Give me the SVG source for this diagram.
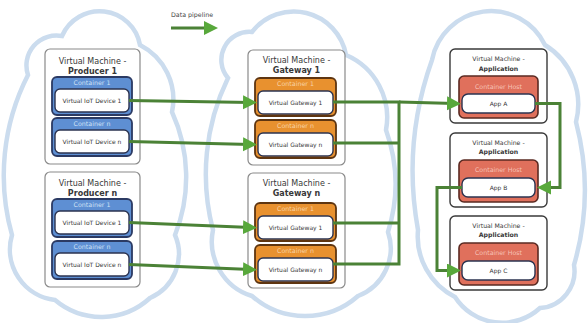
<svg xmlns="http://www.w3.org/2000/svg" width="588" height="323" viewBox="0 0 588 323">
<defs>
<marker id="ah" markerUnits="userSpaceOnUse" markerWidth="16" markerHeight="16" refX="8" refY="7" orient="auto">
<path d="M0,0 L14,7 L0,14 z" fill="#58a83b"/>
</marker>
<style>
.cloud{fill:none;stroke:#cbdcee;stroke-width:4.5}
.vm{fill:#fff;stroke:#8a8a8a;stroke-width:1.2}
.vma{fill:#fff;stroke:#3a3a3a;stroke-width:1.4}
.cb{fill:#5e8fd3;stroke:#2b3a63;stroke-width:1.8}
.co{fill:#e8912f;stroke:#5e3510;stroke-width:1.8}
.cr{fill:#e0705c;stroke:#5a2a22;stroke-width:1.6}
.in{fill:#fff;stroke:#2b3350;stroke-width:1.4}
text{font-family:"DejaVu Sans","Liberation Sans",sans-serif;text-anchor:middle;fill:#383838}
.t{font-size:8px}
.ta{font-size:6.2px}
.b{font-weight:bold}
.it{font-size:6px}
.hb{font-size:6.3px;fill:#cfe0f5}
.ho{font-size:6.3px;fill:#f8d3a6}
.hr{font-size:6.3px;fill:#f6c2b6}
.lg{font-size:6.3px;fill:#444}
.ln{fill:none;stroke:#4b8236;stroke-width:3}
</style>
</defs>
<rect width="588" height="323" fill="#fff"/>
<g id="clouds">
<path class="cloud" d="M28 75 A30 30 0 0 1 62 36 A41 41 0 0 1 140 45 A61 61 0 0 1 172 112 A156 156 0 0 1 175 235 A48 48 0 0 1 150 298 A72 72 0 0 1 55 300 A51 51 0 0 1 12 235 A220 220 0 0 1 28 75 Z"/>
<path class="cloud" d="M228 78 A28 28 0 0 1 252 32 A53 53 0 0 1 346 55 A68 68 0 0 1 386 130 A160 160 0 0 1 388 232 A51 51 0 0 1 358 296 A80 80 0 0 1 252 296 A57 57 0 0 1 213 230 A220 220 0 0 1 228 78 Z"/>
<path class="cloud" d="M432 60 A60 60 0 0 1 545 45 A70 70 0 0 1 576 122 A268 268 0 0 1 574 265 A37 37 0 0 1 540 308 A56 56 0 0 1 455 297 A68 68 0 0 1 418 230 A330 330 0 0 1 432 60 Z"/>
</g>
<g id="legend">
<text class="lg" x="192" y="17">Data pipeline</text>
<path class="ln" d="M171 28 H212" stroke-width="4" marker-end="url(#ah)"/>
</g>
<g id="producer1">
<rect class="vm" x="45" y="49" width="95" height="115" rx="5"/>
<text class="t" x="92.5" y="64">Virtual Machine -</text>
<text class="t b" x="92.5" y="74">Producer 1</text>
<g id="p1c1"><rect class="cb" x="52" y="77" width="80" height="38" rx="5"/><text class="hb" x="92" y="85">Container 1</text><rect class="in" x="55" y="89" width="74" height="23" rx="5"/><text class="it" x="92" y="102.5">Virtual IoT Device 1</text></g>
<g id="p1cn"><rect class="cb" x="52" y="118" width="80" height="38" rx="5"/><text class="hb" x="92" y="126">Container n</text><rect class="in" x="55" y="130" width="74" height="23" rx="5"/><text class="it" x="92" y="143.5">Virtual IoT Device n</text></g>
</g>
<g id="producern">
<rect class="vm" x="45" y="172" width="95" height="115" rx="5"/>
<text class="t" x="92.5" y="186">Virtual Machine -</text>
<text class="t b" x="92.5" y="196">Producer n</text>
<g id="pnc1"><rect class="cb" x="52" y="199" width="80" height="38" rx="5"/><text class="hb" x="92" y="207">Container 1</text><rect class="in" x="55" y="211" width="74" height="23" rx="5"/><text class="it" x="92" y="224.5">Virtual IoT Device 1</text></g>
<g id="pncn"><rect class="cb" x="52" y="241" width="80" height="38" rx="5"/><text class="hb" x="92" y="249">Container n</text><rect class="in" x="55" y="253" width="74" height="23" rx="5"/><text class="it" x="92" y="266.5">Virtual IoT Device n</text></g>
</g>
<g id="gateway1">
<rect class="vm" x="248" y="50" width="97" height="115" rx="5"/>
<text class="t" x="296.5" y="63">Virtual Machine -</text>
<text class="t b" x="296.5" y="73">Gateway 1</text>
<g id="g1c1"><rect class="co" x="255" y="78" width="81" height="38" rx="5"/><text class="ho" x="295.5" y="86">Container 1</text><rect class="in" x="258" y="91" width="75" height="23" rx="5"/><text class="it" x="295.5" y="104.5">Virtual Gateway 1</text></g>
<g id="g1cn"><rect class="co" x="255" y="120" width="81" height="38" rx="5"/><text class="ho" x="295.5" y="128">Container n</text><rect class="in" x="258" y="133" width="75" height="23" rx="5"/><text class="it" x="295.5" y="146.5">Virtual Gateway n</text></g>
</g>
<g id="gatewayn">
<rect class="vm" x="248" y="173" width="97" height="115" rx="5"/>
<text class="t" x="296.5" y="186">Virtual Machine -</text>
<text class="t b" x="296.5" y="196">Gateway n</text>
<g id="gnc1"><rect class="co" x="255" y="203" width="81" height="38" rx="5"/><text class="ho" x="295.5" y="211">Container 1</text><rect class="in" x="258" y="216" width="75" height="23" rx="5"/><text class="it" x="295.5" y="229.5">Virtual Gateway 1</text></g>
<g id="gncn"><rect class="co" x="255" y="245" width="81" height="38" rx="5"/><text class="ho" x="295.5" y="253">Container n</text><rect class="in" x="258" y="258" width="75" height="23" rx="5"/><text class="it" x="295.5" y="271.5">Virtual Gateway n</text></g>
</g>
<g id="appA">
<rect class="vma" x="450" y="49" width="97" height="74" rx="5"/>
<text class="ta" x="498.5" y="61">Virtual Machine -</text>
<text class="ta b" x="498.5" y="70.5">Application</text>
<rect class="cr" x="459" y="76" width="79" height="42" rx="5"/><text class="hr" x="498.5" y="89">Container Host</text>
<rect class="in" x="462" y="94" width="73" height="19" rx="6"/><text class="it" x="498.5" y="105.5">App A</text>
</g>
<g id="appB">
<rect class="vma" x="450" y="133" width="97" height="74" rx="5"/>
<text class="ta" x="498.5" y="145">Virtual Machine -</text>
<text class="ta b" x="498.5" y="154">Application</text>
<rect class="cr" x="459" y="160" width="79" height="42" rx="5"/><text class="hr" x="498.5" y="172">Container Host</text>
<rect class="in" x="462" y="178" width="73" height="19" rx="6"/><text class="it" x="498.5" y="189.5">App B</text>
</g>
<g id="appC">
<rect class="vma" x="450" y="216" width="97" height="74" rx="5"/>
<text class="ta" x="498.5" y="228">Virtual Machine -</text>
<text class="ta b" x="498.5" y="237">Application</text>
<rect class="cr" x="459" y="243" width="79" height="42" rx="5"/><text class="hr" x="498.5" y="255">Container Host</text>
<rect class="in" x="462" y="261" width="73" height="19" rx="6"/><text class="it" x="498.5" y="272.5">App C</text>
</g>
<g id="connectors">
<path class="ln" d="M129 100.5 L251 102.5" marker-end="url(#ah)"/>
<path class="ln" d="M129 141.5 L251 144.5" marker-end="url(#ah)"/>
<path class="ln" d="M129 222.5 L251 227.5" marker-end="url(#ah)"/>
<path class="ln" d="M129 264.5 L251 269.5" marker-end="url(#ah)"/>
<path class="ln" d="M333 102 H399 V264 H333"/>
<path class="ln" d="M333 143 H399"/>
<path class="ln" d="M333 223 H399"/>
<path class="ln" d="M399 102 L455 103.5" marker-end="url(#ah)"/>
<path class="ln" d="M535 103.5 H560 V187.5 H543" marker-end="url(#ah)"/>
<path class="ln" d="M462 187.5 H437 V270.5 H455" marker-end="url(#ah)"/>
</g>
</svg>
